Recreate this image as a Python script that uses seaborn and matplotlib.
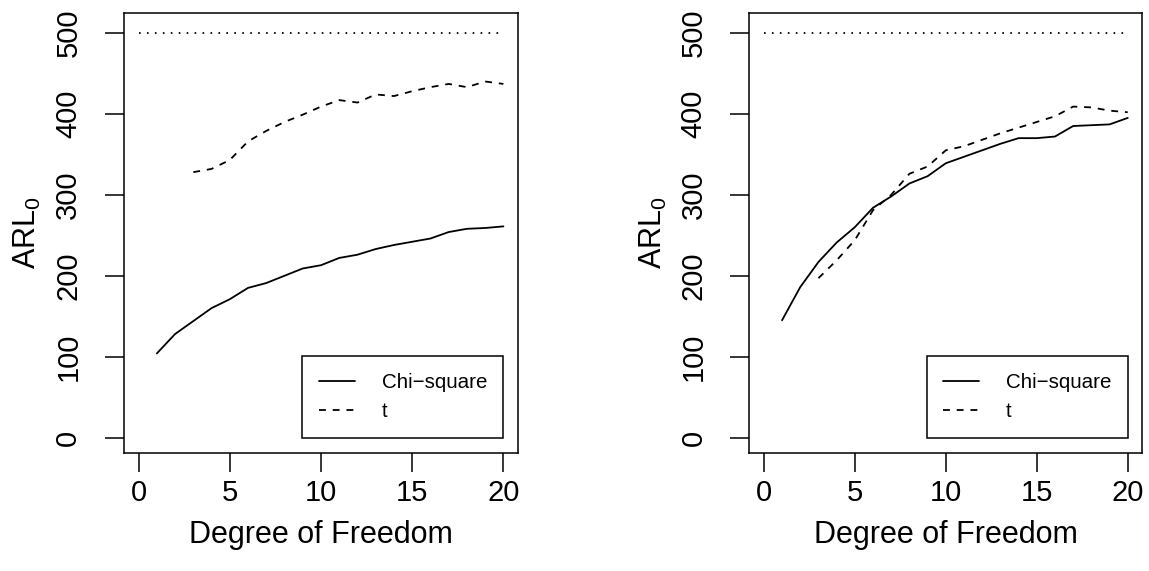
import numpy as np
import pandas as pd
import matplotlib
matplotlib.use("Agg")
import matplotlib.pyplot as plt
import seaborn as sns

# ---- data ----
df_x = list(range(1, 21))
t_x = list(range(3, 21))
left_chi = [104, 128, 144, 160, 171, 185, 191, 200, 209, 213,
            222, 226, 233, 238, 242, 246, 254, 258, 259, 261]
left_t = [328, 332, 343, 366, 379, 390, 399, 409, 417, 414,
          424, 422, 428, 433, 437, 433, 440, 437]
right_chi = [145, 186, 217, 241, 260, 284, 298, 314, 323, 339,
             347, 355, 363, 370, 370, 372, 385, 386, 387, 395]
right_t = [197, 219, 244, 281, 300, 326, 335, 355, 360, 368,
           376, 383, 390, 397, 409, 408, 404, 402]
target_x = [0, 20]
target_y = [500, 500]
x_ticks = [0, 5, 10, 15, 20]
y_ticks = [0, 100, 200, 300, 400, 500]
legend_labels = ["Chi\u2212square", "t"]
x_label = "Degree of Freedom"
y_label = r"$\mathregular{ARL_0}$"

sns.set_style("white")
plt.rcParams["font.family"] = ["Liberation Sans", "DejaVu Sans"]
plt.rcParams["mathtext.fontset"] = "custom"
plt.rcParams["mathtext.rm"] = "Liberation Sans"
plt.rcParams["text.color"] = "black"
plt.rcParams["axes.labelcolor"] = "black"
plt.rcParams["xtick.color"] = "black"
plt.rcParams["ytick.color"] = "black"

W, H = 1149, 571
fig = plt.figure(figsize=(W / 100, H / 100), dpi=100)

LW = 1.3
dash = (0, (3.8, 3.8))
dot = (0, (0.9, 3.5))

panels = [
    (124, 518, left_chi, left_t),
    (749.3, 1142.3, right_chi, right_t),
]
for (x0, x1, chi, tv) in panels:
    ax = fig.add_axes([x0 / W, (H - 453) / H, (x1 - x0) / W, (453 - 12.7) / H])
    d1 = pd.DataFrame({"x": df_x, "y": chi})
    d2 = pd.DataFrame({"x": t_x, "y": tv})
    d3 = pd.DataFrame({"x": target_x, "y": target_y})
    sns.lineplot(data=d1, x="x", y="y", ax=ax, color="black", lw=LW,
                 label=legend_labels[0])
    sns.lineplot(data=d2, x="x", y="y", ax=ax, color="black", lw=LW,
                 linestyle=dash, label=legend_labels[1])
    sns.lineplot(data=d3, x="x", y="y", ax=ax, color="black", lw=LW,
                 linestyle=dot)
    ax.set_xlim(-0.8, 20.8)
    ax.set_ylim(-19, 525)
    ax.set_xticks(x_ticks)
    ax.set_yticks(y_ticks)
    ax.set_xticklabels([str(v) for v in x_ticks], fontsize=21)
    ax.set_yticklabels([str(v) for v in y_ticks], fontsize=21,
                       rotation=90, va="center")
    ax.tick_params(axis="both", direction="out", length=14, width=1.1,
                   color="black", labelcolor="black",
                   bottom=True, left=True, top=False, right=False)
    ax.tick_params(axis="x", pad=5)
    ax.tick_params(axis="y", pad=16)
    for s in ax.spines.values():
        s.set_visible(True)
        s.set_color("black")
        s.set_linewidth(1.1)
    ax.set_xlabel(x_label, fontsize=22, labelpad=9, color="black")
    ax.set_ylabel(y_label, fontsize=22, labelpad=8, color="black")
    leg = ax.legend(loc="lower right", bbox_to_anchor=(20, 0),
                    bbox_transform=ax.transData, borderaxespad=0,
                    fontsize=14.8, handlelength=1.75, handletextpad=1.3,
                    borderpad=0.8, labelspacing=0.5, fancybox=False,
                    framealpha=1, edgecolor="black")
    leg.get_frame().set_linewidth(1.1)
    for t in leg.get_texts():
        t.set_color("black")

fig.savefig("out.png", dpi=100)
